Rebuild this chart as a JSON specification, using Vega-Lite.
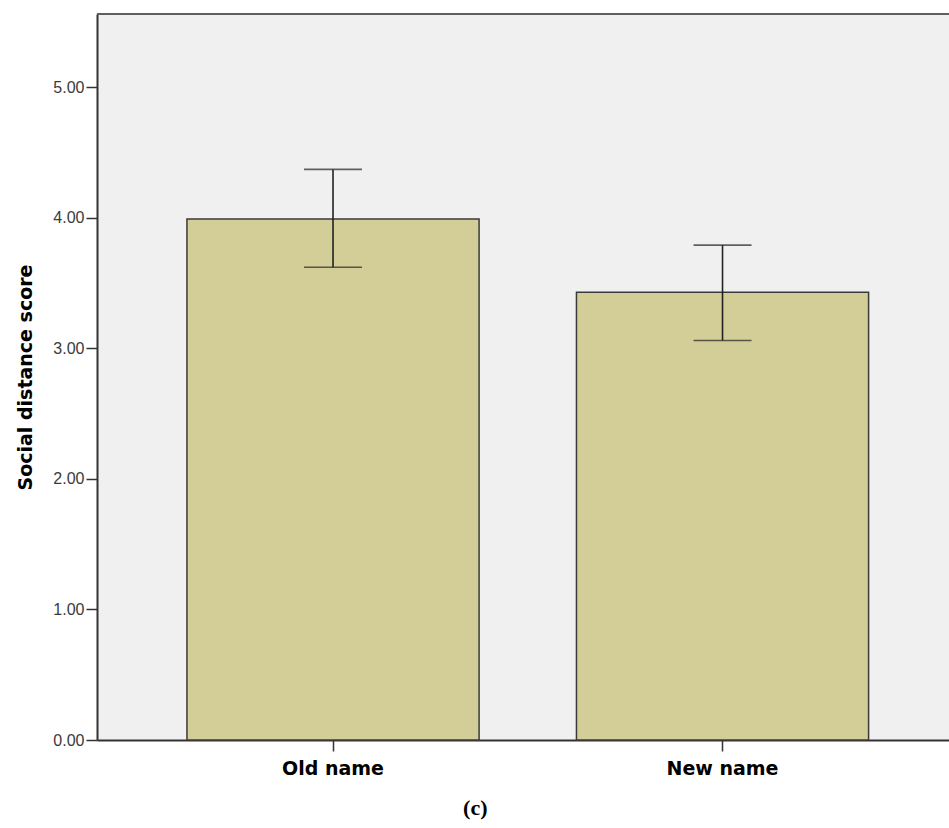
{
  "$schema": "https://vega.github.io/schema/vega-lite/v6.json",
  "autosize": {"type": "none"},
  "padding": {"left": 97, "top": 14, "right": 0, "bottom": 88},
  "width": 852,
  "height": 726,
  "background": "white",
  "title": {
    "text": "(c)",
    "orient": "bottom",
    "anchor": "middle",
    "frame": "bounds",
    "font": "Liberation Serif",
    "fontSize": 22,
    "fontWeight": "bold",
    "color": "#000000",
    "offset": 20,
    "dx": -8
  },
  "config": {
    "view": {"fill": "#F0F0F0", "stroke": null},
    "axis": {"grid": false}
  },
  "data": {
    "values": [
      {"name": "Old name", "mean": 3.99, "lo": 3.62, "hi": 4.37},
      {"name": "New name", "mean": 3.43, "lo": 3.06, "hi": 3.79}
    ]
  },
  "encoding": {
    "x": {
      "field": "name",
      "type": "nominal",
      "sort": ["Old name", "New name"],
      "scale": {"paddingInner": 0.25, "paddingOuter": 0.2187, "align": 0.528},
      "axis": {
        "title": null,
        "labelAngle": 0,
        "labelFont": "DejaVu Sans",
        "labelFontSize": 19,
        "labelFontWeight": "bold",
        "labelColor": "#000000",
        "labelPadding": 8,
        "tickSize": 11,
        "tickColor": "#333333",
        "tickWidth": 1.5,
        "domainColor": "#333333",
        "domainWidth": 2
      }
    }
  },
  "layer": [
    {
      "mark": {"type": "rule", "color": "#555555", "strokeWidth": 1.5},
      "encoding": {"x": null, "y": {"datum": 5.56, "type": "quantitative"}}
    },
    {
      "mark": {"type": "bar", "fill": "#D3CE98", "stroke": "#3A3A3A", "strokeWidth": 1.5},
      "encoding": {
        "y": {
          "field": "mean",
          "type": "quantitative",
          "scale": {"domain": [0, 5.56], "nice": false, "zero": true},
          "axis": {
            "title": "Social distance score",
            "titleFont": "DejaVu Sans",
            "titleFontSize": 19,
            "titleFontWeight": "bold",
            "titleColor": "#000000",
            "titlePadding": 17,
            "values": [0, 1, 2, 3, 4, 5],
            "format": ".2f",
            "labelFont": "Liberation Sans",
            "labelFontSize": 16,
            "labelColor": "#3A3A3A",
            "labelPadding": 2,
            "tickSize": 11,
            "tickColor": "#333333",
            "tickWidth": 1.5,
            "domainColor": "#333333",
            "domainWidth": 2
          }
        }
      }
    },
    {
      "mark": {"type": "rule", "color": "#222222", "strokeWidth": 1.6},
      "encoding": {
        "y": {"field": "lo", "type": "quantitative"},
        "y2": {"field": "hi"}
      }
    },
    {
      "mark": {"type": "tick", "color": "#222222", "thickness": 1.6, "size": 58},
      "encoding": {"y": {"field": "lo", "type": "quantitative"}}
    },
    {
      "mark": {"type": "tick", "color": "#222222", "thickness": 1.6, "size": 58},
      "encoding": {"y": {"field": "hi", "type": "quantitative"}}
    }
  ]
}
